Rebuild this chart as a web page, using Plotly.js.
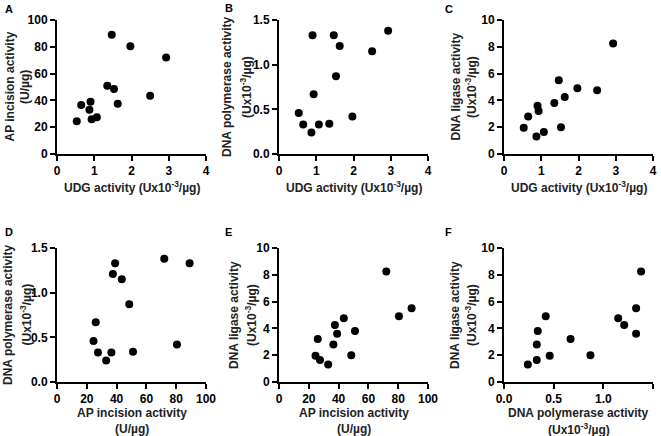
<!DOCTYPE html>
<html>
<head>
<meta charset="utf-8">
<script src="https://cdn.plot.ly/plotly-3.0.1.min.js"></script>
<style>html,body{margin:0;padding:0;background:#fff;}#chart{width:661px;height:436px;}</style>
</head>
<body>
<div id="chart"></div>
<script>
// 13 samples, each measured for four activities
const udg = [0.53, 0.65, 0.87, 0.90, 0.93, 1.07, 1.35, 1.47, 1.53, 1.63, 1.97, 2.50, 2.93];
const apIncision = [24.5, 36.5, 33, 39, 26, 27.5, 51, 89, 48.5, 37.5, 80.5, 43.5, 72];
const polymerase = [0.46, 0.33, 0.24, 1.33, 0.67, 0.33, 0.34, 1.33, 0.87, 1.21, 0.42, 1.15, 1.38];
const ligase = [1.95, 2.8, 1.3, 3.6, 3.2, 1.65, 3.8, 5.5, 2.0, 4.25, 4.9, 4.75, 8.25];

const panelLetters = ['A', 'B', 'C', 'D', 'E', 'F'];
const udgTitle = ['UDG activity (Ux10<sup>-3</sup>/µg)'];
const apTitle1 = ['AP incision activity', '(U/µg)'];
const polTitle = ['DNA polymerase activity', '(Ux10<sup>-3</sup>/µg)'];
const ligTitle = ['DNA ligase activity', '(Ux10<sup>-3</sup>/µg)'];

const W = 661, H = 436;
const colPx = [[57, 206], [279, 428], [504, 653]];
const rowPx = [[20, 154], [248, 382]];

const panels = [
  {x: udg, y: apIncision, xr: [0, 4], xd: 1, yr: [0, 100], yd: 20, xt: udgTitle, yt: apTitle1, yfmt: '', xfmt: '', ytx: [9.5, 25], letter: [3, 1]},
  {x: udg, y: polymerase, xr: [0, 4], xd: 1, yr: [0, 1.5], yd: 0.5, xt: udgTitle, yt: polTitle, yfmt: '.1f', xfmt: '', ytx: [227, 246], letter: [223, 0]},
  {x: udg, y: ligase, xr: [0, 4], xd: 1, yr: [0, 10], yd: 2, xt: udgTitle, yt: ligTitle, yfmt: '', xfmt: '', ytx: [455.5, 471], letter: [443, 1]},
  {x: apIncision, y: polymerase, xr: [0, 100], xd: 20, yr: [0, 1.5], yd: 0.5, xt: apTitle1, yt: polTitle, yfmt: '.1f', xfmt: '', ytx: [8, 25.5], letter: [3, 224]},
  {x: apIncision, y: ligase, xr: [0, 100], xd: 20, yr: [0, 10], yd: 2, xt: apTitle1, yt: ligTitle, yfmt: '', xfmt: '', ytx: [234, 251], letter: [223, 224]},
  {x: polymerase, y: ligase, xr: [0, 1.5], xd: 0.5, yr: [0, 10], yd: 2, xt: polTitle, yt: ligTitle, yfmt: '', xfmt: '.1f', ytx: [455, 471], letter: [443, 224]}
];
const xtY = [[186.7], [412.7, 429.3]];

const fam = 'Liberation Sans, Arial, sans-serif';
const titleFont = {family: fam, size: 12, color: '#222', weight: 'bold'};
const traces = [];
const layout = {
  width: W, height: H,
  margin: {l: 0, r: 0, t: 0, b: 0},
  paper_bgcolor: '#fff', plot_bgcolor: '#fff',
  showlegend: false,
  font: {family: fam, size: 12, color: '#000'},
  annotations: []
};

panels.forEach((p, i) => {
  const n = i + 1;
  const sfx = n === 1 ? '' : String(n);
  const col = i % 3, row = Math.floor(i / 3);
  traces.push({
    type: 'scatter', mode: 'markers', x: p.x, y: p.y,
    xaxis: 'x' + sfx, yaxis: 'y' + sfx,
    marker: {color: '#000', size: 8},
    cliponaxis: false, hoverinfo: 'skip'
  });
  const common = {
    showgrid: false, zeroline: false, showline: true, linecolor: '#000', linewidth: 2,
    ticks: 'outside', ticklen: 5, tickwidth: 2, tickcolor: '#000',
    tickfont: {family: fam, size: 12, color: '#000', weight: 'bold'},
    fixedrange: true
  };
  layout['xaxis' + sfx] = Object.assign({}, common, {
    domain: [colPx[col][0] / W, colPx[col][1] / W],
    range: p.xr, dtick: p.xd, tick0: 0, tickformat: p.xfmt,
    anchor: 'y' + sfx
  });
  layout['yaxis' + sfx] = Object.assign({}, common, {
    domain: [1 - rowPx[row][1] / H, 1 - rowPx[row][0] / H],
    range: p.yr, dtick: p.yd, tick0: 0, tickformat: p.yfmt,
    anchor: 'x' + sfx
  });
  // x-axis title lines
  const xc = (colPx[col][0] + colPx[col][1]) / 2;
  p.xt.forEach((t, k) => {
    const yPx = row === 0 ? xtY[0][0] : xtY[1][k];
    layout.annotations.push({
      text: t, xref: 'paper', yref: 'paper', x: xc / W, y: 1 - yPx / H,
      xanchor: 'center', yanchor: 'middle', showarrow: false, font: titleFont
    });
  });
  // y-axis title lines
  const yc = (rowPx[row][0] + rowPx[row][1]) / 2;
  p.yt.forEach((t, k) => {
    layout.annotations.push({
      text: t, xref: 'paper', yref: 'paper', x: p.ytx[k] / W, y: 1 - yc / H,
      xanchor: 'center', yanchor: 'middle', textangle: -90, showarrow: false,
      font: titleFont
    });
  });
  layout.annotations.push({
    text: panelLetters[i], xref: 'paper', yref: 'paper',
    x: p.letter[0] / W, y: 1 - p.letter[1] / H,
    xanchor: 'left', yanchor: 'top', showarrow: false,
    font: {family: fam, size: 11, color: '#000', weight: 'bold'}
  });
});

Plotly.newPlot('chart', traces, layout, {displayModeBar: false, staticPlot: true});
</script>
</body>
</html>
